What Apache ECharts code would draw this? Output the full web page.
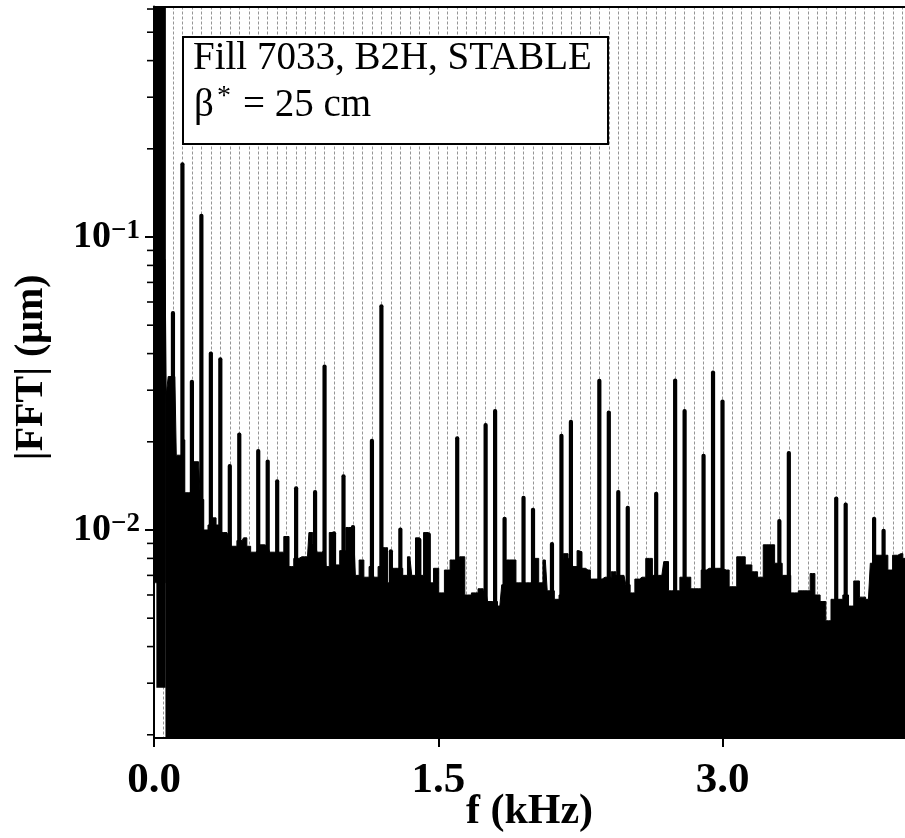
<!DOCTYPE html>
<html><head><meta charset="utf-8">
<script src="https://cdn.jsdelivr.net/npm/echarts@6/dist/echarts.min.js"></script>
<style>html,body{margin:0;padding:0;background:#fff}#c{width:905px;height:838px}</style>
</head><body><div id="c"></div>
<script>
// ---- axis ranges & ticks ----
const xMin = 0, xMax = 3.963;
const yMin = 0.00195, yMax = 0.612;
const xTickValues = [0, 1.5, 3.0];
const xTickLabels = ['0.0', '1.5', '3.0'];
const gridStep = 0.05;
const yTickValues = [0.01, 0.1];
const yTickExponents = ['−2', '−1'];
const yMinorTicks = [0.002,0.003,0.004,0.005,0.006,0.007,0.008,0.009,
                     0.02,0.03,0.04,0.05,0.06,0.07,0.08,0.09,
                     0.2,0.3,0.4,0.5,0.6];

// ---- spectrum: noise floor envelope (kHz, µm) ----
const floorFreq = [0.058,0.063,0.066,0.074,0.076,0.110,0.125,0.145,0.155,0.170,0.190,0.208,0.235,0.255,0.270,0.300,0.315,0.340,0.365,0.385,
  0.400,0.410,0.425,0.450,0.465,0.480,0.500,0.520,0.550,0.570,0.600,0.620,0.650,0.670,0.700,0.725,0.750,0.780,0.810,0.825,
  0.850,0.870,0.900,0.915,0.935,0.960,1.000,1.025,1.055,1.070,1.095,1.120,1.150,1.170,1.195,1.220,1.245,1.270,1.300,1.325,
  1.350,1.370,1.390,1.410,1.435,1.460,1.490,1.515,1.550,1.575,1.600,1.625,1.655,1.695,1.725,1.750,1.770,1.800,1.825,1.845,
  1.875,1.895,1.925,1.950,1.980,2.000,2.020,2.040,2.065,2.085,2.100,2.125,2.150,2.170,2.200,2.220,2.245,2.265,2.290,2.315,
  2.350,2.380,2.400,2.425,2.450,2.480,2.500,2.525,2.550,2.575,2.615,2.645,2.680,2.700,2.730,2.760,2.790,2.820,2.845,2.875,
  2.900,2.930,2.970,3.020,3.050,3.100,3.140,3.170,3.200,3.230,3.260,3.290,3.340,3.380,3.420,3.450,3.475,3.500,3.530,3.560,
  3.585,3.620,3.650,3.680,3.705,3.740,3.770,3.790,3.830,3.860,3.885,3.910,3.940,3.963];
const floorAmp = [0.084,0.084,0.029,0.029,0.0334,0.0334,0.0180,0.0180,0.0203,0.0134,0.0134,0.0171,0.0171,0.0127,0.0100,0.0104,0.0110,0.0104,0.0098,0.0098,
  0.0095,0.0088,0.0088,0.0092,0.0092,0.0094,0.0088,0.0084,0.0085,0.0089,0.0088,0.0084,0.0084,0.0084,0.0095,0.0075,0.0080,0.0081,0.0081,0.0098,
  0.0090,0.0084,0.0085,0.0075,0.0098,0.0076,0.0085,0.0102,0.0092,0.0070,0.0079,0.0069,0.0075,0.0069,0.0075,0.0087,0.0066,0.0074,0.0074,0.0070,
  0.0081,0.0070,0.0094,0.0070,0.0098,0.0066,0.0074,0.0061,0.0073,0.0079,0.0079,0.0081,0.0060,0.0061,0.0063,0.0062,0.0057,0.0057,0.0055,0.0065,
  0.0079,0.0079,0.0066,0.0066,0.0066,0.0066,0.0080,0.0066,0.0079,0.0062,0.0062,0.0058,0.0060,0.0083,0.0080,0.0075,0.0085,0.0074,0.0073,0.0068,
  0.0068,0.0069,0.0069,0.0072,0.0070,0.0070,0.0065,0.0061,0.0068,0.0069,0.0080,0.0070,0.0070,0.0078,0.0062,0.0062,0.0069,0.0069,0.0063,0.0063,
  0.0073,0.0074,0.0074,0.0073,0.0064,0.0081,0.0076,0.0072,0.0069,0.0089,0.0089,0.0077,0.0070,0.0061,0.0062,0.0062,0.0071,0.0060,0.0057,0.0049,
  0.0058,0.0058,0.0060,0.0055,0.0067,0.0059,0.0058,0.0077,0.0082,0.0082,0.0073,0.0082,0.0083,0.0080];

// ---- spectral lines (50 Hz harmonics) ----
const spikeFreq = [0.10,0.15,0.20,0.25,0.30,0.35,0.40,0.45,0.55,0.60,0.65,0.70,0.75,0.85,0.90,0.95,1.00,1.05,1.15,1.20,1.25,1.30,1.40,1.45,
  1.60,1.75,1.80,1.85,1.95,2.00,2.10,2.15,2.20,2.25,2.35,2.40,2.45,2.50,2.65,2.70,2.75,2.80,2.90,2.95,3.00,3.10,3.30,3.35,3.60,3.65,3.80,3.85];
const spikeAmp = [0.0559,0.180,0.0326,0.120,0.0407,0.0389,0.0168,0.0215,0.0189,0.0174,0.0149,0.0095,0.0141,0.0137,0.0367,0.0099,0.0155,0.0104,0.0205,0.0590,0.0086,0.0102,0.0094,0.0098,
  0.0209,0.0232,0.0259,0.0111,0.0131,0.0119,0.0091,0.0213,0.0238,0.0085,0.0328,0.0256,0.0137,0.0121,0.0135,0.0077,0.0329,0.0259,0.0182,0.0350,0.0279,0.0080,0.0109,0.0186,0.0130,0.0124,0.0111,0.0101];

// ---- lowest-frequency bins (range of the oscillating trace) ----
const lowBandStart = [0.000, 0.014];
const lowBandEnd = [0.060, 0.060];
const lowBandMin = [0.0066, 0.0029];
const lowBandMax = [1.0, 1.0];

const FONT = '"Liberation Serif","Times New Roman",serif';

const floorData = floorFreq.map((f, i) => [f, floorAmp[i]]);
const spikeData = spikeFreq.map((f, i) => [f, spikeAmp[i]]);
const lowData = lowBandStart.map((f, i) => [f, lowBandMin[i], lowBandEnd[i], lowBandMax[i]]);
const yTickData = yMinorTicks.map(v => [xMin, v, 0]).concat(yTickValues.map(v => [xMin, v, 1]));

const chart = echarts.init(document.getElementById('c'), null, {renderer: 'canvas'});
chart.setOption({
  animation: false,
  backgroundColor: '#fff',
  grid: {left: 154, right: 0, top: 6.5, bottom: 100, containLabel: false, outerBoundsMode: 'none'},
  xAxis: [
    {
      type: 'value', min: xMin, max: xMax, interval: 1.5,
      name: 'f (kHz)', nameLocation: 'middle', nameGap: 53, nameMoveOverlap: false,
      nameTextStyle: {fontFamily: FONT, fontWeight: 'bold', fontSize: 42, color: '#000'},
      axisLine: {show: true, onZero: false, lineStyle: {color: '#000', width: 2}},
      axisTick: {show: true, inside: false, length: 9, lineStyle: {color: '#000', width: 2}},
      axisLabel: {
        show: true, margin: 21, color: '#000', fontFamily: FONT, fontWeight: 'bold', fontSize: 43,
        showMaxLabel: false,
        formatter: v => { const i = xTickValues.findIndex(t => Math.abs(t - v) < 1e-6); return i >= 0 ? xTickLabels[i] : ''; }
      },
      splitLine: {show: false}
    },
    {
      type: 'value', min: xMin, max: xMax, interval: gridStep, position: 'bottom',
      axisLine: {show: false}, axisTick: {show: false}, axisLabel: {show: false},
      splitLine: {show: true, lineStyle: {color: '#959595', width: 1, type: [3, 2]}}
    },
    {
      type: 'value', min: xMin, max: xMax, position: 'top',
      axisLine: {show: true, onZero: false, lineStyle: {color: '#000', width: 2}},
      axisTick: {show: false}, axisLabel: {show: false}, splitLine: {show: false}
    }
  ],
  yAxis: {
    type: 'log', logBase: 10, min: yMin, max: yMax,
    name: '|FFT| (μm)', nameLocation: 'middle', nameGap: 102, nameRotate: 90, nameMoveOverlap: false,
    nameTextStyle: {fontFamily: FONT, fontWeight: 'bold', fontSize: 40, color: '#000', padding: [0, 0, 0, 10]},
    axisLine: {show: true, lineStyle: {color: '#000', width: 2}},
    axisTick: {show: false},
    splitLine: {show: false},
    axisLabel: {
      show: true, margin: 14, color: '#000',
      formatter: v => {
        const i = yTickValues.findIndex(t => Math.abs(Math.log10(t) - Math.log10(v)) < 1e-6);
        return i >= 0 ? '{b|10}{s|' + yTickExponents[i] + '}' : '';
      },
      rich: {
        b: {fontFamily: FONT, fontWeight: 'bold', fontSize: 38, color: '#000', lineHeight: 38, verticalAlign: 'middle'},
        s: {fontFamily: FONT, fontWeight: 'bold', fontSize: 27, color: '#000', lineHeight: 38, verticalAlign: 'top', padding: [0, 0, 16, 0]}
      }
    }
  },
  series: [
    {
      type: 'line', name: 'floor', data: floorData, xAxisIndex: 0,
      symbol: 'none', smooth: false, step: 'middle', clip: true,
      lineStyle: {color: '#000', width: 1},
      areaStyle: {color: '#000', opacity: 1, origin: 'start'},
      z: 3
    },
    {
      type: 'custom', name: 'lines', data: spikeData, xAxisIndex: 0, clip: true, z: 4,
      renderItem: (params, api) => {
        const top = api.coord([api.value(0), api.value(1)]);
        const bot = api.coord([api.value(0), yMin]);
        const w = 4.2;
        return {type: 'rect', shape: {x: top[0] - w / 2, y: top[1], width: w, height: bot[1] - top[1], r: [2, 2, 0, 0]}, style: {fill: '#000'}};
      }
    },
    {
      type: 'custom', name: 'low', data: lowData, xAxisIndex: 0, clip: true, z: 4,
      renderItem: (params, api) => {
        const p0 = api.coord([api.value(0), api.value(1)]);
        const p1 = api.coord([api.value(2), Math.min(api.value(3), yMax)]);
        return {type: 'rect', shape: {x: p0[0], y: p1[1], width: p1[0] - p0[0], height: p0[1] - p1[1]}, style: {fill: '#000', stroke: '#000', lineWidth: 0.5}};
      }
    },
    {
      type: 'custom', name: 'yticks', data: yTickData, xAxisIndex: 0, clip: false, silent: true, z: 5,
      renderItem: (params, api) => {
        const p = api.coord([api.value(0), api.value(1)]);
        const major = api.value(2) === 1;
        const len = major ? 9 : 7;
        return {type: 'line', shape: {x1: p[0] - len, y1: p[1], x2: p[0] - 1, y2: p[1]}, style: {stroke: '#000', lineWidth: major ? 2 : 1.6}};
      }
    }
  ],
  graphic: [
    {type: 'rect', left: 182, top: 36, z: 100, shape: {width: 425, height: 107}, style: {fill: '#fff', stroke: '#000', lineWidth: 2}},
    {type: 'text', x: 193, y: 59, z: 101, style: {text: 'Fill 7033, B2H, STABLE', font: '39px "Liberation Serif", serif', fill: '#000', verticalAlign: 'middle'}},
    {type: 'text', x: 194, y: 106, z: 101, style: {text: 'β', font: '39px "Liberation Serif", serif', fill: '#000', verticalAlign: 'middle'}},
    {type: 'text', x: 217, y: 97, z: 101, style: {text: '*', font: '28px "Liberation Serif", serif', fill: '#000', verticalAlign: 'middle'}},
    {type: 'text', x: 243, y: 106, z: 101, style: {text: '= 25 cm', font: '39px "Liberation Serif", serif', fill: '#000', verticalAlign: 'middle'}}
  ]
});
</script></body></html>
